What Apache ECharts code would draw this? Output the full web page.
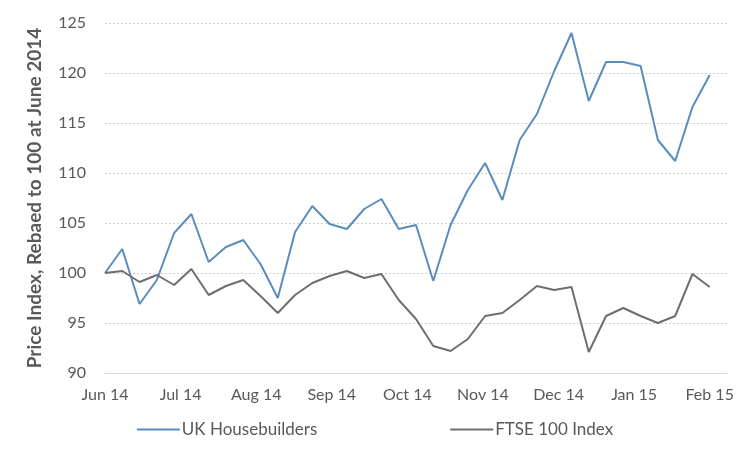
<!DOCTYPE html>
<html>
<head>
<meta charset="utf-8">
<script src="https://cdn.jsdelivr.net/npm/echarts@6/dist/echarts.min.js"></script>
<style>html,body{margin:0;padding:0;background:#fff}#c{width:750px;height:450px}</style>
</head>
<body>
<div id="c"></div>
<script>
const monthLabels = ['Jun 14','Jul 14','Aug 14','Sep 14','Oct 14','Nov 14','Dec 14','Jan 15','Feb 15'];
const yTicks = [90, 95, 100, 105, 110, 115, 120, 125];
const housebuilders = [100.0,102.4,96.9,99.3,104.0,105.9,101.1,102.6,103.3,100.9,97.5,104.1,106.7,104.9,104.4,106.4,107.4,104.4,104.8,99.2,104.8,108.3,111.0,107.3,113.3,115.9,120.2,124.0,117.2,121.1,121.1,120.7,113.3,111.2,116.6,119.8];
const ftse = [100.0,100.2,99.1,99.8,98.8,100.4,97.8,98.7,99.3,97.7,96.0,97.8,99.0,99.7,100.2,99.5,99.9,97.3,95.4,92.7,92.2,93.4,95.7,96.0,97.3,98.7,98.3,98.6,92.1,95.7,96.5,95.7,95.0,95.7,99.9,98.6];

const step = 35 / 8;
const font = 'Lato';
const chart = echarts.init(document.getElementById('c'));
chart.setOption({
  animation: false,
  grid: { left: 105, right: 23, top: 23, bottom: 77 },
  legend: {
    bottom: 7,
    left: 'center',
    itemGap: 133,
    itemWidth: 43,
    itemHeight: 2,
    icon: 'rect',
    textStyle: { color: '#595959', fontSize: 17, fontFamily: font, padding: [0,0,0,-3] },
    data: ['UK Housebuilders', 'FTSE 100 Index']
  },
  xAxis: {
    type: 'value',
    min: 0,
    max: 36,
    interval: step,
    axisLine: { show: true, lineStyle: { color: '#d9d9d9', width: 1 } },
    axisTick: { show: false },
    splitLine: { show: false },
    axisLabel: {
      color: '#595959', fontSize: 16, fontFamily: font, margin: 14,
      showMaxLabel: false,
      formatter: function (v) {
        const k = Math.round(v / step);
        if (Math.abs(v / step - k) > 1e-6) return '';
        return monthLabels[k] || '';
      }
    }
  },
  yAxis: {
    type: 'value',
    min: yTicks[0],
    max: yTicks[yTicks.length - 1],
    interval: 5,
    name: 'Price Index, Rebaed to 100 at June 2014',
    nameLocation: 'middle',
    nameGap: 61,
    nameTextStyle: { color: '#595959', fontSize: 19, fontWeight: 'bold', fontFamily: font },
    axisLine: { show: false },
    axisTick: { show: false },
    splitLine: { lineStyle: { color: '#d0d0d0', type: [2, 2], width: 1 } },
    axisLabel: { color: '#595959', fontSize: 16, fontFamily: font, margin: 19 }
  },
  series: [
    {
      name: 'UK Housebuilders', type: 'line', symbol: 'none',
      lineStyle: { color: '#5A8DBE', width: 2 }, itemStyle: { color: '#5A8DBE' },
      data: housebuilders.map((v, i) => [i, v])
    },
    {
      name: 'FTSE 100 Index', type: 'line', symbol: 'none',
      lineStyle: { color: '#6E6E6E', width: 2 }, itemStyle: { color: '#6E6E6E' },
      data: ftse.map((v, i) => [i, v])
    }
  ]
});
</script>
</body>
</html>
